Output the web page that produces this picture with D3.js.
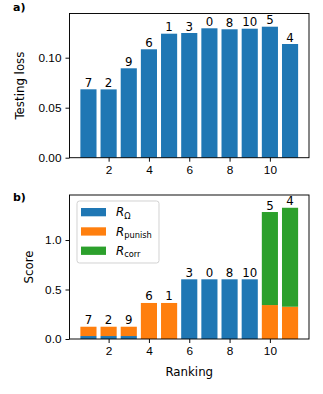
<!DOCTYPE html>
<html lang="en">
<head>
<meta charset="utf-8">
<script src="https://d3js.org/d3.v7.min.js"></script>
<style>
  html, body { margin: 0; padding: 0; background: #fff; }
  svg { display: block; font-family: "DejaVu Sans", sans-serif; }
  .axis text { font-size: 11.8px; fill: #000; }
  .axis line, .axis path { stroke: #000; stroke-width: 0.95px; }
</style>
</head>
<body>
<script>
// ---- data ----
var ranking = [1, 2, 3, 4, 5, 6, 7, 8, 9, 10, 11];
var modelIds = ["7", "2", "9", "6", "1", "3", "0", "8", "10", "5", "4"];
var testingLoss = [0.0684, 0.0683, 0.0894, 0.1084, 0.124, 0.1247, 0.1294, 0.1284, 0.129, 0.131, 0.1137];
var rOmega  = [0.03, 0.03, 0.03, 0, 0, 0.603, 0.603, 0.603, 0.603, 0, 0];
var rPunish = [0.094, 0.094, 0.094, 0.364, 0.364, 0, 0, 0, 0, 0.343, 0.326];
var rCorr   = [0, 0, 0, 0, 0, 0, 0, 0, 0, 0.94, 1.0];
var xTicks = [2, 4, 6, 8, 10];
var lossTicks = [0, 0.05, 0.10];
var scoreTicks = [0, 0.5, 1.0];
var seriesNames = ["\u03A9", "punish", "corr"];
var colors = ["#1f77b4", "#ff7f0e", "#2ca02c"];

var W = 323, H = 394;
var left = 69.5, right = 309;
var barW = 0.8;

var svg = d3.select("body").append("svg")
    .attr("width", W).attr("height", H);

var x = d3.scaleLinear().domain([0.06, 11.94]).range([left, right]);

function frame(top, bottom, y, yTicks, fmt, ylabel, ylabelX, tag, tagY) {
  var g = svg.append("g");
  g.append("g").attr("class", "axis")
      .attr("transform", "translate(0," + bottom + ")")
      .call(d3.axisBottom(x).tickValues(xTicks).tickSize(4).tickSizeOuter(0).tickPadding(4))
      .select(".domain").remove();
  g.append("g").attr("class", "axis")
      .attr("transform", "translate(" + left + ",0)")
      .call(d3.axisLeft(y).tickValues(yTicks).tickFormat(fmt).tickSize(4).tickSizeOuter(0).tickPadding(4))
      .select(".domain").remove();
  g.append("rect")
      .attr("x", left).attr("y", top)
      .attr("width", right - left).attr("height", bottom - top)
      .attr("fill", "none").attr("stroke", "#000").attr("stroke-width", 0.95);
  g.append("text")
      .attr("transform", "translate(" + ylabelX + "," + ((top + bottom) / 2) + ") rotate(-90)")
      .attr("text-anchor", "middle")
      .style("font-size", "11.8px")
      .text(ylabel);
  g.append("text")
      .attr("x", 13).attr("y", tagY)
      .style("font-size", "11px").style("font-weight", "bold")
      .text(tag);
  return g;
}

// ---- panel a ----
var topA = 13.5, botA = 157.7;
var yA = d3.scaleLinear().domain([0, 0.1442]).range([botA, topA]);
var gA = svg.append("g");
gA.selectAll("rect.bar")
    .data(testingLoss)
    .enter().append("rect")
    .attr("class", "bar")
    .attr("x", function(d, i) { return x(ranking[i] - barW / 2); })
    .attr("width", x(barW) - x(0))
    .attr("y", function(d) { return yA(d); })
    .attr("height", function(d) { return botA - yA(d); })
    .attr("fill", colors[0]);
gA.selectAll("text.lbl")
    .data(testingLoss)
    .enter().append("text")
    .attr("class", "lbl")
    .attr("x", function(d, i) { return x(ranking[i]); })
    .attr("y", function(d) { return yA(d) - 2.5; })
    .attr("text-anchor", "middle")
    .style("font-size", "11.8px")
    .text(function(d, i) { return modelIds[i]; });
frame(topA, botA, yA, lossTicks, d3.format(".2f"), "Testing loss", 24, "a)", 11);

// ---- panel b ----
var topB = 195, botB = 339;
var yB = d3.scaleLinear().domain([0, 1.455]).range([botB, topB]);
var stackData = ranking.map(function(r, i) {
  return { rank: r, omega: rOmega[i], punish: rPunish[i], corr: rCorr[i] };
});
var stack = d3.stack().keys(["omega", "punish", "corr"])(stackData);
var gB = svg.append("g");
gB.selectAll("g.layer")
    .data(stack)
    .enter().append("g")
    .attr("class", "layer")
    .attr("fill", function(d, k) { return colors[k]; })
    .selectAll("rect")
    .data(function(d) { return d; })
    .enter().append("rect")
    .attr("x", function(d) { return x(d.data.rank - barW / 2); })
    .attr("width", x(barW) - x(0))
    .attr("y", function(d) { return yB(d[1]); })
    .attr("height", function(d) { return yB(d[0]) - yB(d[1]); });
gB.selectAll("text.lbl")
    .data(stackData)
    .enter().append("text")
    .attr("class", "lbl")
    .attr("x", function(d) { return x(d.rank); })
    .attr("y", function(d) { return yB(d.omega + d.punish + d.corr) - 2.5; })
    .attr("text-anchor", "middle")
    .style("font-size", "11.8px")
    .text(function(d, i) { return modelIds[i]; });
frame(topB, botB, yB, scoreTicks, d3.format(".1f"), "Score", 33, "b)", 201);

svg.append("text")
    .attr("x", (left + right) / 2).attr("y", 376)
    .attr("text-anchor", "middle")
    .style("font-size", "11.8px")
    .text("Ranking");

// ---- legend ----
var leg = svg.append("g");
leg.append("rect")
    .attr("x", 77).attr("y", 201).attr("width", 82).attr("height", 62)
    .attr("rx", 2.5)
    .attr("fill", "#fff").attr("fill-opacity", 0.8)
    .attr("stroke", "#d0d0d0").attr("stroke-width", 0.95);
seriesNames.forEach(function(name, k) {
  var yy = 208 + k * 19.3;
  leg.append("rect")
      .attr("x", 81).attr("y", yy).attr("width", 25).attr("height", 8.3)
      .attr("fill", colors[k]);
  var t = leg.append("text")
      .attr("x", 116).attr("y", yy + 8.3)
      .style("font-size", "11.8px");
  t.append("tspan").style("font-style", "italic").text("R");
  t.append("tspan").attr("dy", 2.5).style("font-size", "8.3px").text(name);
});
</script>
</body>
</html>
